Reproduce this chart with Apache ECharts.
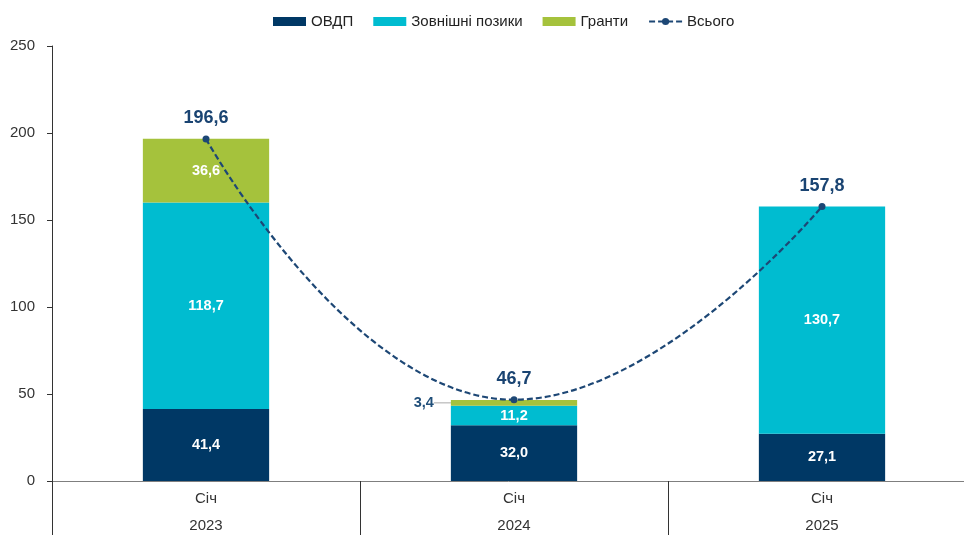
<!DOCTYPE html>
<html><head><meta charset="utf-8">
<script src="https://cdn.jsdelivr.net/npm/echarts@6/dist/echarts.min.js"></script>
<style>html,body{margin:0;padding:0;background:#fff}#c{width:964px;height:535px}</style>
</head><body><div id="c"></div>
<script>
var months = ['Січ', 'Січ', 'Січ'];
var years = ['2023', '2024', '2025'];
var ovdp = [41.4, 32.0, 27.1];
var external = [118.7, 11.2, 130.7];
var grants = [36.6, 3.4, null];
var total = [196.6, 46.7, 157.8];
var yTicks = [0, 50, 100, 150, 200, 250];

function fmt(v){ return v == null ? '' : v.toFixed(1).replace('.', ','); }
var font = 'Liberation Sans, Arial, sans-serif';
var inLabel = { show: true, position: 'inside', color: '#fff', fontWeight: 'bold', fontSize: 14.5, fontFamily: font,
  formatter: function(p){ return fmt(p.value); } };

var chart = echarts.init(document.getElementById('c'));
chart.setOption({
  animation: false,
  textStyle: { fontFamily: font },
  legend: {
    top: 9, left: 268, itemWidth: 33, itemHeight: 9, itemGap: 20,
    textStyle: { fontSize: 15, color: '#222', fontFamily: font },
    data: [
      { name: 'ОВДП', icon: 'rect' },
      { name: 'Зовнішні позики', icon: 'rect' },
      { name: 'Гранти', icon: 'rect' },
      { name: 'Всього' }
    ]
  },
  grid: { left: 52, width: 924, top: 46, bottom: 54, outerBoundsMode: 'none', containLabel: false },
  xAxis: [
    { type: 'category', data: months, position: 'bottom',
      axisLine: { show: true, lineStyle: { color: '#7f7f7f', width: 1 } },
      axisTick: { show: false },
      axisLabel: { fontSize: 15, color: '#333', margin: 10, fontFamily: font } },
    { type: 'category', data: years, position: 'bottom',
      axisLine: { show: false },
      axisTick: { show: true, length: 60, inside: false, lineStyle: { color: '#333' } },
      axisLabel: { fontSize: 15, color: '#333', margin: 37, fontFamily: font } }
  ],
  yAxis: {
    type: 'value', min: yTicks[0], max: yTicks[yTicks.length-1], interval: 50,
    splitLine: { show: false },
    axisLine: { show: true, lineStyle: { color: '#333' } },
    axisTick: { show: true, length: 5, lineStyle: { color: '#333' } },
    axisLabel: { fontSize: 15, color: '#333', margin: 17, fontFamily: font }
  },
  series: [
    { name: 'ОВДП', type: 'bar', stack: 's', data: ovdp, barWidth: '41%',
      itemStyle: { color: '#003865' }, label: inLabel },
    { name: 'Зовнішні позики', type: 'bar', stack: 's', data: external,
      itemStyle: { color: '#00bcd0' }, label: inLabel },
    { name: 'Гранти', type: 'bar', stack: 's',
      data: grants.map(function(v, i){
        if (i === 1) return { value: v, label: { show: true, position: 'left', distance: 5, color: '#1f4e79', fontWeight: 'bold', fontSize: 14.5 } };
        return v;
      }),
      itemStyle: { color: '#a5c23c' }, label: inLabel,
      labelLayout: function(p){ return p.dataIndex === 1 ? { dx: -12 } : {}; },
      labelLine: { show: true, lineStyle: { color: '#aaa', width: 1 } } },
    { name: 'Всього', type: 'line', data: total, smooth: 0.5, z: 10,
      symbol: 'circle', symbolSize: 7,
      lineStyle: { color: '#1d4775', type: [6, 3], width: 2.2 },
      itemStyle: { color: '#1d4775' },
      label: { show: true, position: 'top', distance: 8, color: '#1a4472', fontWeight: 'bold', fontSize: 18, fontFamily: font,
        formatter: function(p){ return fmt(p.value); } } }
  ]
});
</script></body></html>
